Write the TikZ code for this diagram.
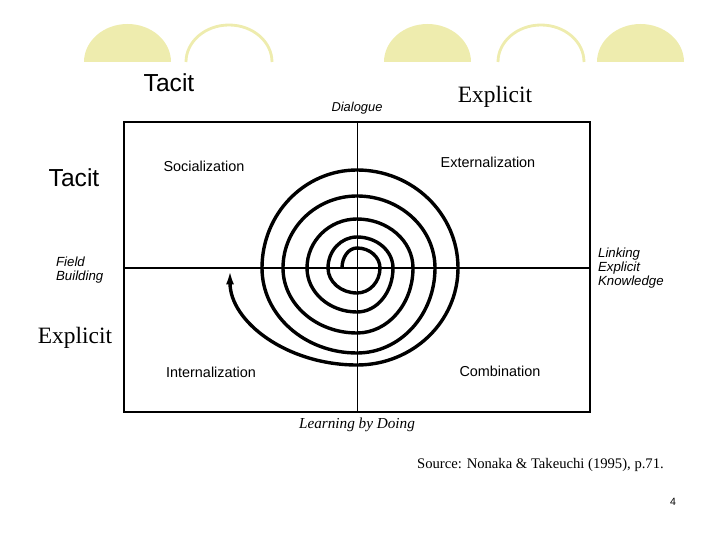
\documentclass[tikz,border=0pt]{standalone}
\usepackage{fontspec}
\setmainfont{Liberation Serif}
\setsansfont{Liberation Sans}
\usetikzlibrary{arrows.meta}
\definecolor{paleyellow}{RGB}{238,236,174}

\begin{document}
\begin{tikzpicture}[x=0.03cm, y=-0.03cm,
    bump/.style={fill=paleyellow},
    ring/.style={draw=paleyellow, line width=2.4pt},
    spiral/.style={line width=2.9pt, -{Latex[length=14pt, width=6.5pt]}},
    quadrant/.style={font=\sffamily\fontsize{12.3}{14}\selectfont},
    mode/.style={font=\sffamily\itshape\fontsize{11.3}{12.3}\selectfont, align=left}]
	\useasboundingbox (0,0) rectangle (720,540);
	% decoration on top
	\fill[bump] (84,62) arc[start angle=180, end angle=360, x radius=43.5, y radius=38] -- cycle;
	\draw[ring] (186,62) arc[start angle=180, end angle=360, x radius=43, y radius=37];
	\fill[bump] (384,62) arc[start angle=180, end angle=360, x radius=43.5, y radius=38] -- cycle;
	\draw[ring] (498,62) arc[start angle=180, end angle=360, x radius=43, y radius=37];
	\fill[bump] (597,62) arc[start angle=180, end angle=360, x radius=43.5, y radius=38] -- cycle;

	\node[font=\sffamily\fontsize{21}{24}\selectfont] (tacitTop) at (169,83) {Tacit};
	\node[font=\fontsize{20}{24}\selectfont] (explicitTop) at (495,97) {Explicit};
	\node[font=\sffamily\fontsize{21}{24}\selectfont] (tacitLeft) at (74,178) {Tacit};
	\node[font=\fontsize{20}{24}\selectfont] (explicitLeft) at (75,338) {Explicit};

	% the matrix
	\coordinate (nw) at (124,122);
	\coordinate (se) at (590,412);
	\coordinate (top) at (357,122);
	\coordinate (bottom) at (357,412);
	\coordinate (left) at (124,268);
	\coordinate (right) at (590,268);
	\draw[line width=1.6pt] (nw) rectangle (se);
	\draw[line width=0.8pt] (top) -- (bottom);
	\draw[line width=1.4pt] (left) -- (right);

	\node[font=\sffamily\itshape\fontsize{11}{12}\selectfont] (dialogue) at (357,108) {Dialogue};
	\node[mode, anchor=west] (field) at (52,270) {Field\\Building};
	\node[mode, anchor=west] (linking) at (594,268) {Linking\\Explicit\\Knowledge};
	\node[font=\itshape\fontsize{13}{15}\selectfont] (learning) at (357,425) {Learning by Doing};

	\node[quadrant] (soc) at (204,166) {Socialization};
	\node[quadrant] (ext) at (488,162) {Externalization};
	\node[quadrant] (int) at (211,372) {Internalization};
	\node[quadrant] (com) at (500,371) {Combination};

	% spiral
	\draw[spiral] (342,268)
		arc[start angle=180, end angle=270, x radius=15, y radius=20]
		arc[start angle=270, end angle=360, x radius=23, y radius=20]
		arc[start angle=0, end angle=90, x radius=23, y radius=25]
		arc[start angle=90, end angle=180, x radius=29, y radius=25]
		arc[start angle=180, end angle=270, x radius=29, y radius=31]
		arc[start angle=270, end angle=360, x radius=36, y radius=31]
		arc[start angle=0, end angle=90, x radius=36, y radius=44]
		arc[start angle=90, end angle=180, x radius=50, y radius=44]
		arc[start angle=180, end angle=270, x radius=50, y radius=49]
		arc[start angle=270, end angle=360, x radius=56, y radius=49]
		arc[start angle=0, end angle=90, x radius=56, y radius=65]
		arc[start angle=90, end angle=180, x radius=74, y radius=65]
		arc[start angle=180, end angle=270, x radius=74, y radius=72]
		arc[start angle=270, end angle=360, x radius=78, y radius=72]
		arc[start angle=0, end angle=90, x radius=78, y radius=85]
		arc[start angle=90, end angle=180, x radius=95, y radius=85]
		arc[start angle=180, end angle=270, x radius=95, y radius=98]
		arc[start angle=270, end angle=360, x radius=101, y radius=98]
		arc[start angle=0, end angle=90, x radius=101, y radius=97]
		arc[start angle=90, end angle=180, x radius=127, y radius=97];

	\node[font=\fontsize{12.5}{14}\selectfont, anchor=west] (source) at (413,465) {Source: Nonaka \& Takeuchi (1995), p.71.};
	\node[font=\sffamily\fontsize{9}{10}\selectfont] (page) at (673,502) {4};
\end{tikzpicture}
\end{document}
